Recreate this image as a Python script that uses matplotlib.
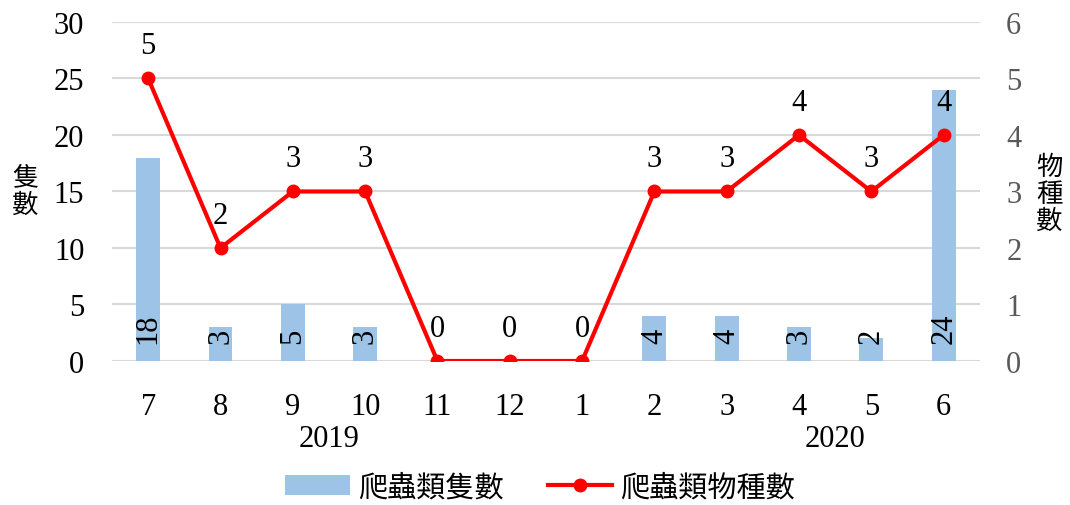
import matplotlib
matplotlib.use("Agg")
import matplotlib.pyplot as plt

plt.rcParams['font.family'] = ['Liberation Serif', 'Noto Sans CJK TC']

# data
months = ["7", "8", "9", "10", "11", "12", "1", "2", "3", "4", "5", "6"]
counts = [18, 3, 5, 3, 0, 0, 0, 4, 4, 3, 2, 24]
species = [5, 2, 3, 3, 0, 0, 0, 3, 3, 4, 3, 4]
years = ["2019", "2020"]
year_pos = [2.5, 9.5]

bar_color = "#9DC3E6"
line_color = "#FF0000"
fs = 22

fig = plt.figure(figsize=(10.7, 5.06), dpi=100)
ax = fig.add_axes([0.1047, 0.2846, 0.811, 0.67])
ax2 = ax.twinx()

x = list(range(len(months)))

# bars
bars = ax.bar(x, counts, width=0.33, color=bar_color, zorder=2, label="爬蟲類隻數")
for xi, c in zip(x, counts):
    if c > 0:
        ax.annotate(str(c), (xi, 0), xytext=(0, 13), textcoords="offset points",
                    rotation=90, ha="center", va="bottom", fontsize=fs, zorder=5)

# line
line, = ax2.plot(x, species, color=line_color, lw=3, marker="o", ms=9,
                 zorder=4, label="爬蟲類物種數")
for xi, s in zip(x, species):
    ax2.annotate(str(s), (xi, s), xytext=(0, 13), textcoords="offset points",
                 ha="center", va="bottom", fontsize=fs)

ax.set_xlim(-0.5, len(months) - 0.5)
ax.set_ylim(0, 30)
ax2.set_ylim(0, 6)
ax.set_yticks(range(0, 31, 5))
ax2.set_yticks(range(0, 7))
ax.set_xticks(x)
ax.set_xticklabels(months)

ax.grid(axis="y", color="#D9D9D9", lw=1.5, zorder=0)
ax.set_axisbelow(True)
for a in (ax, ax2):
    for sp in a.spines.values():
        sp.set_visible(False)
    a.tick_params(length=0, labelsize=fs)
ax.tick_params(axis="x", pad=22)
ax.tick_params(axis="y", pad=20, colors="black")
ax2.tick_params(axis="y", pad=19, labelcolor="#595959")
ax.set_zorder(ax2.get_zorder() - 1)
ax2.patch.set_visible(False)
ax.patch.set_visible(True)

# year labels
for yp, yl in zip(year_pos, years):
    ax.text(yp, -0.23, yl, transform=ax.get_xaxis_transform(), ha="center",
            va="center", fontsize=fs)

# axis titles (stacked characters)
fig.text(0.024, 0.62, "隻\n數", ha="center", va="center", fontsize=19,
         family="Noto Sans CJK TC", linespacing=1.0)
fig.text(0.981, 0.615, "物\n種\n數", ha="center", va="center", fontsize=19,
         family="Noto Sans CJK TC", linespacing=1.0)

fig.legend([bars, line], ["爬蟲類隻數", "爬蟲類物種數"], loc="center",
           bbox_to_anchor=(0.505, 0.035), ncol=2, frameon=False,
           prop={"family": "Noto Sans CJK TC", "size": 21},
           handlelength=2.2, columnspacing=1.5, handletextpad=0.3)

fig.savefig("out.png", dpi=100)
